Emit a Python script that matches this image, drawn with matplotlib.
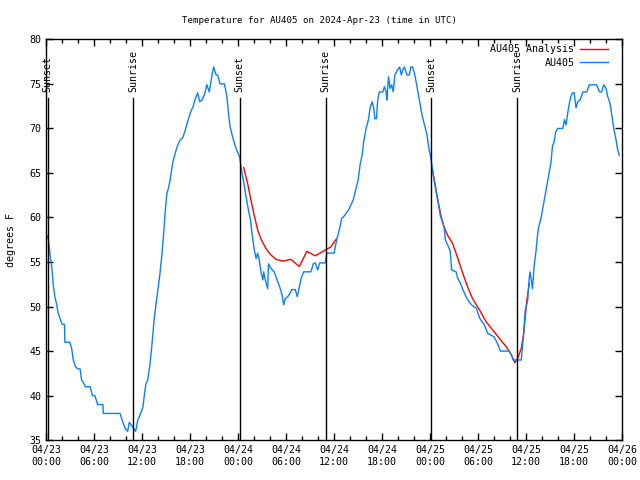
import numpy as np
import matplotlib
matplotlib.use('Agg')
import matplotlib.pyplot as plt
import matplotlib.dates as mdates

# hours since 2024-04-23 00:00 UTC, temperature in F
obs_hours = [0.1, 0.3, 0.55, 0.7, 0.9, 1.1, 1.33, 1.5, 1.8, 2.0, 2.3, 2.35, 2.95, 3.2, 3.4, 3.7, 4.0, 4.25,
             4.45, 4.7, 4.9, 5.5, 5.8, 6.1, 6.45, 7.1, 7.15, 9.25, 9.6, 9.9, 10.2, 10.4, 10.8, 11.2, 11.45,
             11.9, 12.1, 12.3, 12.5, 12.7, 13.0, 13.25, 13.5, 13.8, 14.2, 14.45, 14.7, 14.9, 15.1, 15.3,
             15.5, 15.75, 15.95, 16.2, 16.45, 16.75, 17.1, 17.4, 17.7, 18.1, 18.4, 18.6, 18.95, 19.2, 19.5,
             19.8, 20.1, 20.4, 20.7, 20.95, 21.25, 21.45, 21.75, 22.3, 22.6, 22.8, 23.0, 23.3, 23.65, 24.0,
             24.2, 24.4, 24.7, 25.0, 25.3, 25.55, 25.8, 26.0, 26.25, 26.45, 26.65, 26.9, 27.1, 27.2, 27.4,
             27.7, 27.8, 28.1, 28.5, 28.8, 29.2, 29.5, 29.7, 29.9, 30.2, 30.5, 30.7, 31.15, 31.4, 31.65,
             31.9, 32.2, 33.1, 33.4, 33.65, 33.95, 34.2, 34.9, 35.1, 36.0, 36.3, 36.7, 36.95, 37.2, 37.7,
             37.9, 38.4, 38.7, 39.0, 39.25, 39.5, 39.7, 40.0, 40.3, 40.5, 40.75, 40.95, 41.1, 41.3, 41.45,
             41.65, 42.1, 42.3, 42.5, 42.6, 42.8, 43.0, 43.2, 43.4, 43.6, 43.95, 44.2, 44.4, 44.6, 44.8,
             45.1, 45.4, 45.6, 45.8, 46.1, 46.4, 46.7, 47.0, 47.3, 47.6, 47.85, 48.1, 48.3, 48.5, 48.8,
             49.1, 49.3, 49.6, 49.8, 49.9, 50.2, 50.5, 50.7, 51.25, 51.45, 51.8, 52.1, 52.5, 52.9, 53.3,
             53.8, 54.2, 54.8, 55.2, 56.0, 56.4, 56.8, 57.9, 58.2, 58.4, 59.4, 59.7, 59.9, 60.2, 60.4,
             60.5, 60.8, 61.0, 61.25, 61.5, 61.9, 62.2, 62.5, 62.8, 63.1, 63.3, 63.5, 63.7, 63.95, 64.6,
             64.8, 65.0, 65.2, 65.4, 65.6, 65.8, 66.0, 66.25, 66.45, 66.75, 67.1, 67.6, 67.9, 68.8, 69.2,
             69.45, 69.7, 70.0, 70.2, 70.5, 70.8, 71.0, 71.25, 71.45, 71.65]
obs_temps = [58.0, 57.5, 55.4, 54.5, 52.4, 51.1, 50.2, 49.3, 48.5, 48.0, 48.0, 46.0, 46.0, 45.3, 44.0, 43.2, 43.0, 43.0,
             41.7, 41.4, 41.0, 41.0, 40.0, 40.0, 39.0, 39.0, 38.0, 38.0, 37.0, 36.3, 36.0, 37.0, 36.5, 36.0, 37.2,
             38.2, 38.7, 40.2, 41.4, 41.7, 43.6, 45.9, 48.5, 50.7, 53.4, 55.6, 58.2, 60.8, 62.7, 63.3,
             64.2, 65.7, 66.6, 67.4, 68.1, 68.7, 69.0, 69.8, 70.8, 71.9, 72.5, 73.2, 74.0, 73.0, 73.2,
             73.8, 74.9, 74.1, 75.8, 76.9, 76.0, 76.0, 75.0, 75.0, 73.6, 71.7, 70.2, 69.1, 68.0, 67.2,
             66.8, 65.5, 64.0, 62.3, 60.8, 59.7, 57.8, 56.5, 55.4, 56.0, 55.2, 53.7, 53.0, 53.9, 53.0,
             52.0, 54.8, 54.3, 53.9, 53.2, 52.2, 51.3, 50.2, 50.9, 51.1, 51.5, 51.9, 51.9, 51.1, 52.2,
             53.2, 53.9, 53.9, 54.8, 54.9, 54.1, 54.9, 54.9, 56.0, 56.0, 57.4, 58.8, 59.9, 60.1, 60.7,
             61.0, 62.0, 63.1, 64.2, 65.9, 67.0, 68.5, 70.0, 71.0, 72.3, 73.0, 72.3, 71.1, 71.1, 73.2,
             74.1, 74.1, 74.7, 74.1, 73.2, 75.8, 74.5, 74.9, 74.1, 76.0, 76.6, 76.9, 76.0, 76.6, 76.9,
             76.0, 76.0, 76.9, 76.9, 76.0, 74.5, 73.0, 71.5, 70.4, 69.3, 67.8, 66.6, 65.4, 64.2, 62.7,
             61.2, 60.1, 59.5, 58.6, 57.5, 56.9, 56.3, 54.1, 53.9, 53.2, 52.6, 51.9, 51.1, 50.5, 50.1,
             49.8, 48.7, 47.9, 47.0, 46.6, 45.9, 45.0, 45.0, 44.5, 44.0, 44.0, 47.0, 49.6, 50.7, 53.3,
             53.9, 52.0, 54.5, 56.3, 58.6, 60.1, 61.6, 63.1, 64.6, 66.1, 68.0, 68.5, 69.6, 70.0, 70.0,
             71.0, 70.4, 71.7, 72.8, 73.6, 74.0, 74.0, 72.3, 73.0, 73.2, 74.1, 74.1, 74.9, 74.9, 74.1,
             74.1, 74.9, 74.5, 73.6, 72.8, 71.0, 69.8, 68.7, 67.6, 67.0]

# analysis (nan breaks the two night segments)
ana_hours = [24.7, 25.2, 25.6, 26.0, 26.45, 26.9, 27.5, 28.1, 28.75, 29.6, 30.6, 31.65, 32.6, 33.65, 35.0,
             35.6, 36.05, 36.3, 42.0,
             48.3, 48.6, 49.0, 49.5, 49.9, 50.2, 50.8, 51.4, 52.1, 52.7, 53.3, 54.2, 55.0, 55.8, 56.7,
             57.5, 58.1, 58.6, 58.95, 59.4, 59.7, 59.9, 60.1, 60.4]
ana_temps = [65.6, 63.8, 62.0, 60.3, 58.6, 57.5, 56.5, 55.8, 55.3, 55.1, 55.3, 54.5, 56.2, 55.7, 56.4,
             56.7, 57.3, 57.6, np.nan,
             65.3, 63.9, 61.8, 59.6, 58.6, 58.0, 57.1, 55.6, 53.7, 52.2, 50.9, 49.6, 48.3, 47.4, 46.4,
             45.5, 44.7, 43.7, 44.2, 45.3, 47.0, 48.9, 50.7, 52.6]

event_hours = [0.2, 10.9, 24.2, 34.95, 48.15, 58.85]
event_names = ['Sunset', 'Sunrise', 'Sunset', 'Sunrise', 'Sunset', 'Sunrise']

base = np.datetime64('2024-04-23T00:00')
def to_time(h):
    return base + (np.array(h) * 60).round().astype('timedelta64[m]')

plt.rcParams['font.family'] = 'DejaVu Sans Mono'

fig = plt.figure(figsize=(6.4, 4.8), dpi=100)
ax = fig.add_axes([0.072, 0.083, 0.9, 0.835])

ax.plot(to_time(ana_hours), ana_temps, color='red', lw=1, label='AU405 Analysis')
ax.plot(to_time(obs_hours), obs_temps, color='#0a7fff', lw=1, label='AU405')

for h, name in zip(event_hours, event_names):
    t = to_time(h)
    ax.plot([t, t], [35, 73.4], color='black', lw=1)
    ax.text(t, 74.1, name, rotation=90, ha='center', va='bottom', fontsize=7.2)

ax.set_xlim(to_time(0), to_time(72))
ax.set_ylim(35, 80)
ax.set_yticks(np.arange(35, 81, 5))
ax.xaxis.set_major_locator(mdates.HourLocator(byhour=[0, 6, 12, 18]))
ax.xaxis.set_minor_locator(mdates.HourLocator(byhour=range(0, 24, 2)))
ax.xaxis.set_major_formatter(mdates.DateFormatter('%m/%d\n%H:%M'))
ax.tick_params(which='both', direction='in', top=True, right=True, labelsize=7.2, width=1)
ax.tick_params(which='major', length=5)
ax.tick_params(which='minor', length=3)
for s in ax.spines.values():
    s.set_linewidth(1)

ax.set_ylabel('degrees F', fontsize=7.2)
ax.yaxis.set_label_coords(-0.052, 0.5)
fig.text(0.5, 0.958, 'Temperature for AU405 on 2024-Apr-23 (time in UTC)', fontsize=6.6,
         ha='center', va='center')
ax.legend(loc='upper right', frameon=False, markerfirst=False, fontsize=7.2, handlelength=2.8,
          borderaxespad=0.2, labelspacing=0.35, handletextpad=0.6, borderpad=0.3,
          bbox_to_anchor=(0.985, 1.0))

fig.savefig('out.png', dpi=100)
